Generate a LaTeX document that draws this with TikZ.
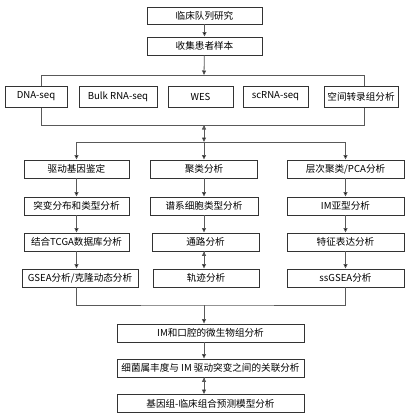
\documentclass[tikz,border=0pt]{standalone}
\usepackage{fontspec}
\setmainfont{Noto Sans CJK SC}
\usetikzlibrary{arrows.meta}

\begin{document}
\begin{tikzpicture}[x=1pt,y=-1pt,->,>={Triangle[length=4.5pt,width=4pt]},
    box/.style={draw=black!80,line width=0.9pt,fill=white,minimum height=18pt,
      inner sep=0pt,font=\fontsize{9.6}{11}\selectfont},
    link/.style={draw=black!65,line width=0.8pt}]
  \useasboundingbox (0,0) rectangle (411,418);

  % frame round the sequencing row
  \coordinate (tl) at (41,75);
  \coordinate (tr) at (364,75);
  \coordinate (bl) at (41,125);
  \coordinate (br) at (364,125);
  \coordinate (seqin) at (204,75);
  \coordinate (seqout) at (204,125);
  \coordinate (split) at (204,142);
  \coordinate (merge) at (204,305);
  \draw[link,-] (tl) -- (tr) -- (br) -- (bl) -- cycle;

  \node[box,minimum width=115pt,minimum height=17pt] (study) at (204.5,15.5) {临床队列研究};
  \node[box,minimum width=115pt] (collect) at (204.5,46) {收集患者样本};

  \node[box,minimum width=62pt,minimum height=21pt]  (dna)     at (36,96.5)    {DNA-seq};
  \node[box,minimum width=78pt,minimum height=21pt]  (bulk)    at (118,96.5)   {Bulk RNA-seq};
  \node[box,minimum width=65pt,minimum height=21pt]  (wes)     at (200.5,96.5) {WES};
  \node[box,minimum width=65pt,minimum height=21pt]  (scrna)   at (275.5,96.5) {scRNA-seq};
  \node[box,minimum width=74pt,minimum height=21pt]  (spatial) at (361,96.5)   {空间转录组分析};

  % three analysis columns
  \node[box,minimum width=105pt] (driver) at (76.5,169)  {驱动基因鉴定};
  \node[box,minimum width=105pt] (mutdist) at (76.5,206) {突变分布和类型分析};
  \node[box,minimum width=105pt] (tcga)   at (76.5,242)  {结合TCGA数据库分析};
  \node[box,minimum width=116pt] (gsea)   at (80,278)    {GSEA分析/克隆动态分析};

  \node[box,minimum width=107pt] (cluster) at (204,169)  {聚类分析};
  \node[box,minimum width=108pt] (lineage) at (204,206)  {谱系细胞类型分析};
  \node[box,minimum width=107pt] (pathway) at (205.5,242) {通路分析};
  \node[box,minimum width=106pt] (traj)    at (206,278)  {轨迹分析};

  \node[box,minimum width=117pt] (pca)    at (345.5,169) {层次聚类/PCA分析};
  \node[box,minimum width=117pt] (imsub)  at (345.5,206) {IM亚型分析};
  \node[box,minimum width=117pt] (feat)   at (345.5,242) {特征表达分析};
  \node[box,minimum width=117pt] (ssgsea) at (345.5,278) {ssGSEA分析};

  \node[box,minimum width=187pt] (micro)  at (210.5,333)   {IM和口腔的微生物组分析};
  \node[box,minimum width=187pt] (assoc)  at (210.5,368)   {细菌属丰度与 IM 驱动突变之间的关联分析};
  \node[box,minimum width=187pt] (model)  at (210.5,403.5) {基因组-临床组合预测模型分析};

  \path[link] (study) edge (collect)
        (collect) edge (seqin)
        (seqout) edge (split);
  \draw[link,-] (driver.north |- split) -- (pca.north |- split);
  \path[link] (driver.north |- split) edge (driver)
        (split) edge (cluster)
        (pca.north |- split) edge (pca)
        (driver) edge (mutdist)
        (mutdist) edge (tcga)
        (tcga) edge (tcga |- gsea.north)
        (cluster) edge (cluster |- lineage.north)
        (lineage) edge (lineage |- pathway.north)
        (lineage |- pathway.south) edge (lineage |- traj.north)
        (pca) edge (imsub)
        (imsub) edge (feat)
        (feat) edge (ssgsea);
  \draw[link,-] (gsea.south -| driver) |- (merge) -| (ssgsea.south);
  \path[link] (merge) edge (merge |- micro.north)
        (micro.south -| merge) edge (assoc.north -| merge)
        (assoc.south -| merge) edge (model.north -| merge);
\end{tikzpicture}
\end{document}
